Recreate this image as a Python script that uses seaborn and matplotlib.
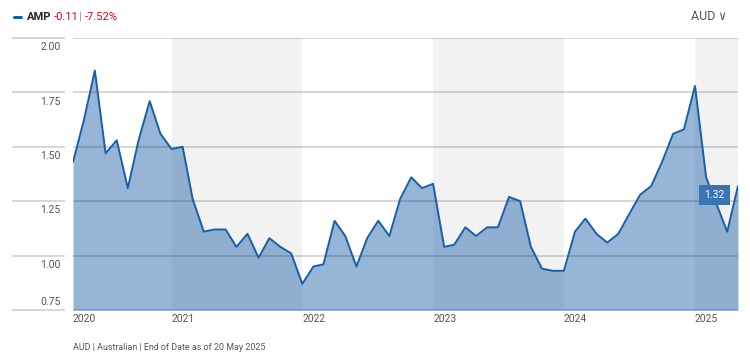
import numpy as np
import pandas as pd
import seaborn as sns
import matplotlib.pyplot as plt
from matplotlib.lines import Line2D
from matplotlib.transforms import ScaledTranslation

# monthly closing values, Apr 2020 .. May 2025
dates = pd.date_range('2020-04-01', periods=62, freq='MS')
prices = [1.43, 1.62, 1.85, 1.47, 1.53, 1.31, 1.53, 1.71, 1.56, 1.49,
          1.50, 1.26, 1.11, 1.12, 1.12, 1.04, 1.10, 0.99, 1.08, 1.04,
          1.01, 0.87, 0.95, 0.96, 1.16, 1.09, 0.95, 1.08, 1.16, 1.09,
          1.26, 1.36, 1.31, 1.33, 1.04, 1.05, 1.13, 1.09, 1.13, 1.13,
          1.27, 1.25, 1.04, 0.94, 0.93, 0.93, 1.11, 1.17, 1.10, 1.06,
          1.10, 1.19, 1.28, 1.32, 1.43, 1.56, 1.58, 1.78, 1.36, 1.24,
          1.11, 1.32]
yticks = [0.75, 1.00, 1.25, 1.50, 1.75, 2.00]
year_labels = ['2020', '2021', '2022', '2023', '2024', '2025']
shaded_years = [2021, 2023, 2025]

df = pd.DataFrame({'date': dates, 'price': prices})

sns.set_style('white')
plt.rcParams['font.family'] = ['Roboto', 'DejaVu Sans']
plt.rcParams['font.stretch'] = 'condensed'

fig = plt.figure(figsize=(7.5, 3.6), dpi=100)
ax = fig.add_axes([73 / 750, 1 - 310 / 360, 665 / 750, 272 / 360])

line_col = '#1a5ea8'
grey = '#555555'

for yr in shaded_years:
    end = min(pd.Timestamp(f'{yr + 1}-01-01'), dates[-1])
    ax.axvspan(pd.Timestamp(f'{yr}-01-01'), end, color='#f2f2f2', lw=0, zorder=0)

ax.fill_between(df['date'], df['price'], 0.5, color=line_col, alpha=0.45, lw=0, zorder=1)
sns.lineplot(data=df, x='date', y='price', ax=ax, color=line_col, lw=1.4, zorder=4)

# grid lines, also running out under the tick labels
ytr = ax.get_yaxis_transform()
ax.hlines(yticks, 0, 1, transform=ytr, color='black', alpha=0.17, lw=1.3, zorder=3)
ax.hlines(yticks, -0.092, -0.012, transform=ytr, color='black', alpha=0.17, lw=1.3,
          clip_on=False)

ax.set_xlim(dates[0], dates[-1])
ax.set_ylim(0.75, 2.00)
ax.set_xlabel('')
ax.set_ylabel('')
for s in ax.spines.values():
    s.set_visible(False)

ax.set_yticks(yticks)
ax.set_yticklabels([f'{v:.2f}' for v in yticks])
ax.tick_params(axis='y', length=0, pad=9, labelsize=7.5, labelcolor=grey)
for v, lab in zip(yticks, ax.get_yticklabels()):
    if v == 0.75:
        lab.set_va('bottom')
        lab.set_transform(lab.get_transform() + ScaledTranslation(0, 2.5 / 72, fig.dpi_scale_trans))
    else:
        lab.set_va('top')
        lab.set_transform(lab.get_transform() + ScaledTranslation(0, -3 / 72, fig.dpi_scale_trans))

xpos = [dates[0]] + [pd.Timestamp(f'{y}-01-01') for y in year_labels[1:]]
ax.set_xticks(xpos)
ax.set_xticklabels(year_labels)
ax.tick_params(axis='x', length=0, pad=3, labelsize=7.5, labelcolor=grey)
for lab in ax.get_xticklabels():
    lab.set_ha('left')

# last value badge
ax.annotate(f'{prices[-1]:.2f}', xy=(dates[-1], prices[-1]), xytext=(-17, -6.5),
            textcoords='offset points', ha='center', va='center', color='white',
            fontsize=7.5, zorder=6,
            bbox=dict(boxstyle='square,pad=0.5', fc='#3b74b2', ec='none'))

# header
fig.add_artist(Line2D([14 / 750, 21 / 750], [0.953, 0.953], color=line_col, lw=2.2))
fig.text(27 / 750, 0.953, 'AMP', fontsize=8, fontweight='bold', color='#222222', va='center')
fig.text(54 / 750, 0.953, '-0.11', fontsize=8, color='#d0021b', va='center')
fig.text(79 / 750, 0.953, '|', fontsize=8, color='#888888', va='center')
fig.text(85 / 750, 0.953, '-7.52%', fontsize=8, color='#d0021b', va='center')
fig.text(727 / 750, 0.953, 'AUD \u2228', fontsize=9, color=grey, va='center', ha='right')

fig.text(73 / 750, 1 - 347 / 360, 'AUD | Australian | End of Date as of 20 May 2025',
         fontsize=6.4, color=grey, va='center')

fig.savefig('out.png', dpi=100)
